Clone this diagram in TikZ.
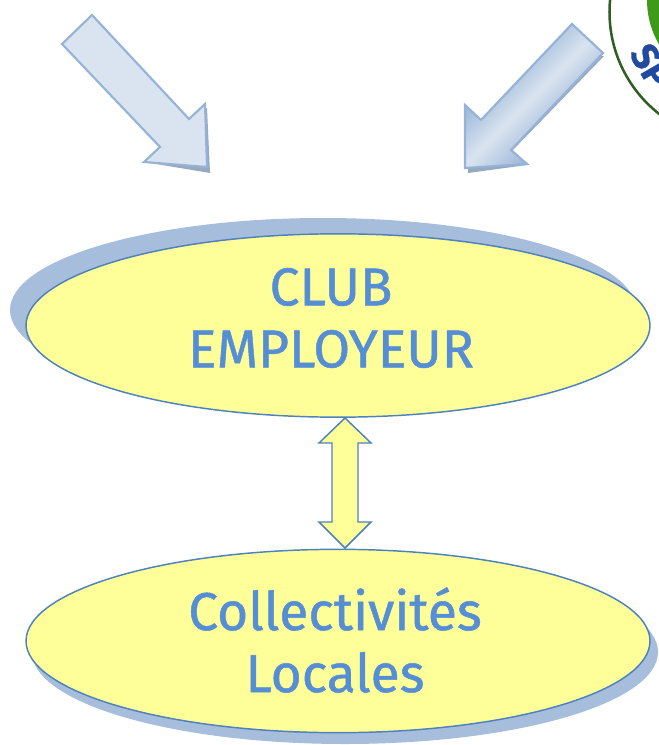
\documentclass[tikz,border=0pt]{standalone}
\usepackage{fontspec}
\setmainfont{Fira Sans}[FakeBold=0.9]
\definecolor{EllipseFill}{HTML}{FFFF99}
\definecolor{EllipseLine}{HTML}{4F81BD}
\definecolor{EllipseShade}{HTML}{A6BDDC}
\definecolor{ArrowLine}{HTML}{95B3D7}
\definecolor{ArrowFill}{HTML}{DAE4F0}
\definecolor{ArrowDark}{HTML}{6F97C8}
\definecolor{ArrowShade}{HTML}{98A8BE}
\definecolor{TextBlue}{HTML}{558ED5}
\definecolor{LogoGreen}{HTML}{3F9A1C}
\definecolor{LogoRing}{HTML}{2F5F22}
\definecolor{LogoBlue}{HTML}{1F4AA0}
\usetikzlibrary{calc, shapes.geometric}
\tikzset{
  placeNode/.style={ellipse, draw=EllipseLine, fill=EllipseFill, line width=1.1pt,
    minimum width=468pt, minimum height=137.5pt, inner sep=0pt},
  placeText/.style={align=center, text=TextBlue, inner sep=0pt,
    font=\fontsize{40}{46.5}\selectfont},
}
\begin{document}
\begin{tikzpicture}[x=0.75pt, y=-0.75pt]
\useasboundingbox (0,0) rectangle (659,745);

% Fleches du haut
\fill[ArrowShade] (150,163) -- (210,173) -- (207,108) -- (190,120) -- cycle;
\draw[draw=ArrowLine, fill=ArrowFill, line width=1.6pt]
  (92,15) -- (189,119) -- (205,104) -- (207,167) -- (144,162) -- (160,147) -- (62,44) -- cycle;
\fill[ArrowShade] (604,56) -- (511,152) -- (527,165) -- (468,173) -- (468,160) -- (560,60) -- cycle;
\draw[draw=ArrowLine, left color=ArrowDark, right color=ArrowDark, middle color=ArrowFill, shading angle=45, line width=1.6pt]
  (572,24) -- (603,53) -- (511,150) -- (527,164) -- (465,168) -- (465,105) -- (481,120) -- cycle;

% Logo coupe par le bord
\begin{scope}
\clip (600,0) rectangle (659,130);
\draw[LogoRing, line width=1.9pt, fill=white] (739,12) circle (129.5);
\fill[LogoGreen] (735,0) circle (88);
\node[text=LogoBlue, rotate=-60, inner sep=0pt, font=\bfseries\fontsize{28}{28}\selectfont] (logoText) at (651,66) {SP};
\end{scope}

% Ombres puis ellipses
\fill[EllipseShade] (323,310) ellipse (313 and 92);
\fill[EllipseShade] (345,652) ellipse (313 and 92);
\node[placeNode] (club) at (338,325.5) {};
\node[placeNode] (collectivites) at (338,641) {};
\node[placeText] (clubText) at (331,318) {CLUB\\EMPLOYEUR};
\node[placeText] (collectivitesText) at (335,640) {Collectivités\\Locales};

% Double fleche entre les deux ellipses
\draw[draw=EllipseLine, fill=EllipseFill, line width=1.1pt]
  (345,418) -- (371,443) -- (358,443) -- (358,522) -- (371,522)
  -- (345,548) -- (319,522) -- (332,522) -- (332,443) -- (319,443) -- cycle;

\end{tikzpicture}
\end{document}
